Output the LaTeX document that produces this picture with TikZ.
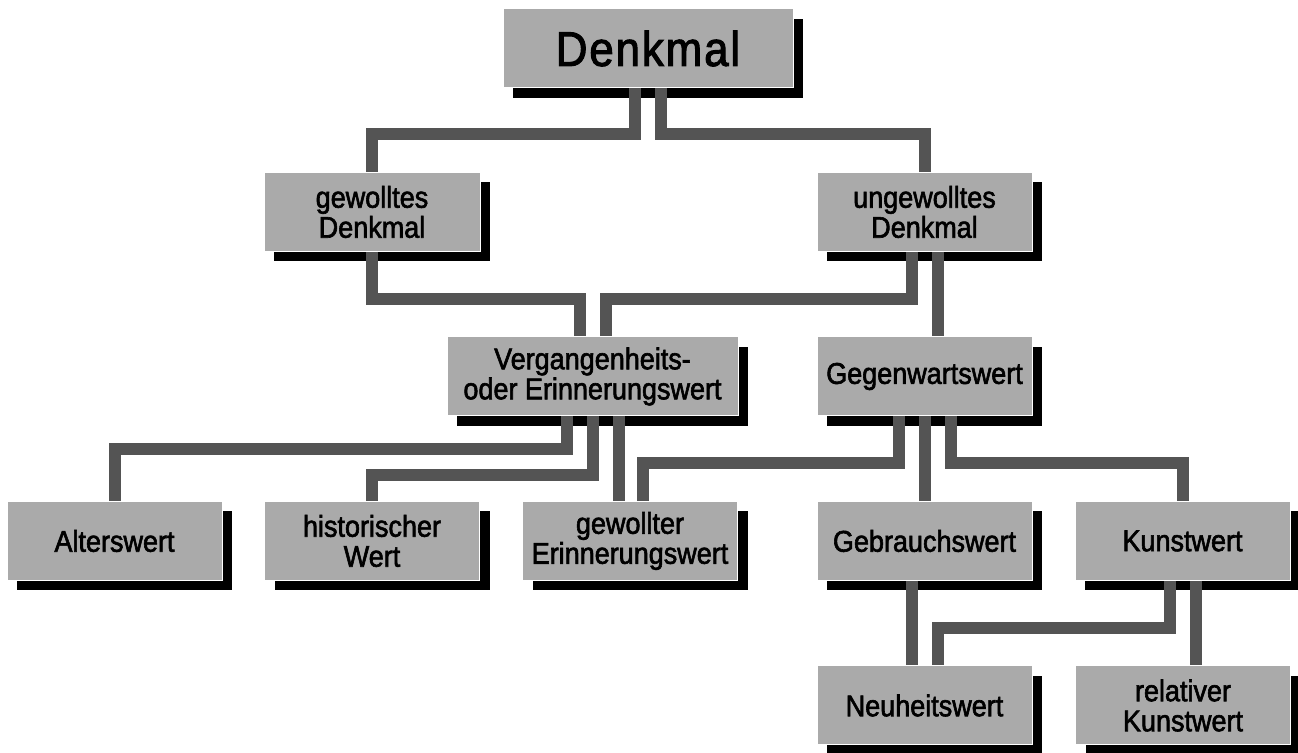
\documentclass[tikz,border=0pt]{standalone}
\usepackage{fontspec}
\setmainfont{Liberation Sans}[FakeStretch=0.9, FakeBold=2]
\newfontfamily\titlefont{Liberation Sans}[FakeStretch=0.9, FakeBold=2, LetterSpace=3.8]
\usetikzlibrary{shadows}
\definecolor{boxgray}{RGB}{170,170,170}
\definecolor{linegray}{RGB}{84,84,84}
\tikzset{
  wertbox/.style={fill=boxgray, draw=white, line width=0.5pt, inner sep=0pt,
    minimum width=107.5pt, minimum height=39.5pt, align=center,
    font=\fontsize{15}{15}\selectfont,
    drop shadow={shadow xshift=5pt, shadow yshift=-5pt, opacity=1, fill=black}},
  conn/.style={draw=linegray, line width=6pt, line join=miter}
}

\begin{document}
\begin{tikzpicture}[x=0.5pt, y=-0.5pt]
    \useasboundingbox (0,0) rectangle (1298,753);

    \node[wertbox, minimum width=145pt, font=\titlefont\fontsize{24.4}{26}\selectfont] (Denkmal) at (648,48.5) {Denkmal};
    \node[wertbox, minimum width=108pt] (Gewollt) at (372,212) {gewolltes\\Denkmal};
    \node[wertbox] (Ungewollt) at (924.5,212) {ungewolltes\\Denkmal};
    \node[wertbox, minimum width=145.5pt] (Vergang) at (592.5,376.5) {Vergangenheits-\\oder Erinnerungswert};
    \node[wertbox] (Gegenwart) at (924.5,376.5) {Gegenwartswert};
    \node[wertbox] (Alters) at (114.5,541) {Alterswert};
    \node[wertbox] (Histor) at (372,541) {historischer\\Wert};
    \node[wertbox] (GewErinn) at (630,541) {gewollter\\Erinnerungswert};
    \node[wertbox] (Gebrauch) at (924.5,541) {Gebrauchswert};
    \node[wertbox] (Kunst) at (1182.5,541) {Kunstwert};
    \node[wertbox] (Neuheit) at (924.5,705.5) {Neuheitswert};
    \node[wertbox] (RelKunst) at (1183,705.5) {relativer\\Kunstwert};

    \draw[conn] ([xshift=-6.5pt]Denkmal.south) -- ++(0,46) -| (Gewollt.north);
    \draw[conn] ([xshift=6.5pt]Denkmal.south) -- ++(0,46) -| (Ungewollt.north);
    \draw[conn] (Gewollt.south) -- ++(0,47) -| ([xshift=-6.5pt]Vergang.north);
    \draw[conn] ([xshift=-6.5pt]Ungewollt.south) -- ++(0,47) -| ([xshift=6.5pt]Vergang.north);
    \draw[conn] ([xshift=6.5pt]Ungewollt.south) -- ([xshift=6.5pt]Gegenwart.north);
    \draw[conn] ([xshift=-13pt]Vergang.south) -- ++(0,33) -| (Alters.north);
    \draw[conn] (Vergang.south) -- ++(0,59) -| (Histor.north);
    \draw[conn] ([xshift=13pt]Vergang.south) -- ([xshift=13pt]Vergang.south |- GewErinn.north);
    \draw[conn] ([xshift=-13pt]Gegenwart.south) -- ++(0,47) -| ([xshift=6.5pt]GewErinn.north);
    \draw[conn] (Gegenwart.south) -- (Gebrauch.north);
    \draw[conn] ([xshift=13pt]Gegenwart.south) -- ++(0,47) -| (Kunst.north);
    \draw[conn] ([xshift=-6.5pt]Kunst.south) -- ++(0,47) -| ([xshift=6.5pt]Neuheit.north);
    \draw[conn] ([xshift=6.5pt]Kunst.south) -- ([xshift=6.5pt]Kunst.south |- RelKunst.north);
    \draw[conn] ([xshift=-6.5pt]Gebrauch.south) -- ([xshift=-6.5pt]Neuheit.north);
\end{tikzpicture}
\end{document}
